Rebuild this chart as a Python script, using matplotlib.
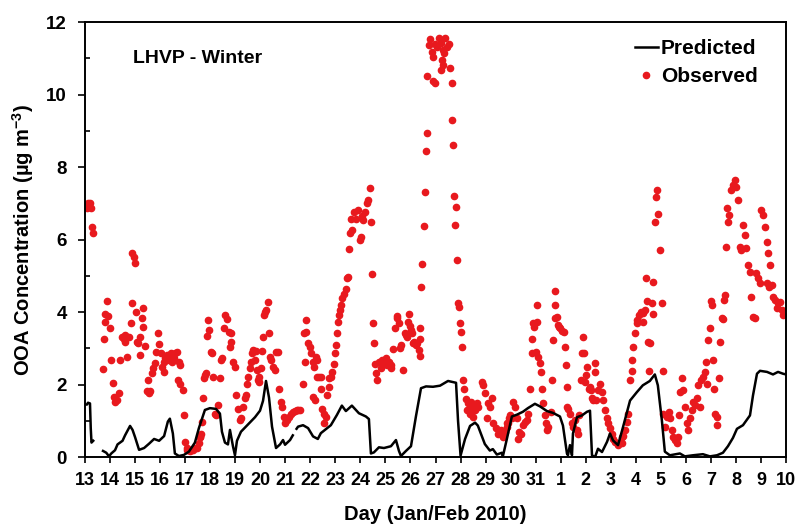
import numpy as np
import matplotlib
matplotlib.use("Agg")
import matplotlib.pyplot as plt

# day index: 0 = 13 Jan 2010, 28 = 10 Feb 2010
day_labels = [str(d) for d in range(13, 32)] + [str(d) for d in range(1, 11)]

pred_day = [0.0, 0.08, 0.12, 0.2, 0.23, 0.26, 0.33, np.nan,
            0.72, 0.85, 0.96, 1.05, 1.2, 1.3, 1.4, 1.5, 1.6, 1.8, 1.9, 2.0,
            2.16, 2.36, 2.56, 2.76, 2.96, 3.16, 3.31, 3.39, 3.51, 3.59, 3.75,
            3.95, 4.15, 4.39, 4.55, 4.79, 4.99, 5.23, 5.39, 5.47, 5.59, 5.71,
            5.79, 5.91, 5.99, 6.07, 6.23, 6.51, 6.79, 6.99, 7.11, 7.23, 7.35,
            7.47, 7.63, 7.79, 7.91, 7.99, 8.19, 8.3, np.nan,
            8.45, 8.51, 8.71, 8.91, 9.11, 9.3, 9.42, 9.82, 10.06, 10.26, 10.42,
            10.66, 10.94, 11.22, 11.34, 11.42, 11.54, 11.74, 11.94, 12.22,
            12.42, 12.54, 12.62, 12.82, 13.02, 13.22, 13.42, 13.62, 13.9,
            14.18, 14.5, 14.82, 14.9, 15.0, 15.18, 15.38, 15.58, 15.69, 15.97,
            16.17, 16.29, 16.45, 16.65, 16.69, 16.85, 17.05, 17.25, 17.49,
            17.69, 17.97, 18.17, 18.45, 18.69, 18.97, 19.09, 19.25, 19.29,
            19.37, 19.45, 19.49, 19.65, 19.85, 20.05, 20.17, 20.25, 20.37,
            20.49, 20.65, 20.85, 20.97, 21.09, 21.29, 21.49, 21.77, 22.04,
            22.28, 22.56, 22.76, 22.88, 23.04, 23.16, 23.36, 23.76, 23.96,
            24.28, 24.68, 24.96, 25.24, 25.48, 25.68, 25.88, 26.04, 26.28,
            26.56, 26.68, 26.84, 26.96, 27.24, 27.48, 27.68, 27.88, 28.0]
pred_val = [1.45, 1.45, 1.5, 1.48, 0.8, 0.4, 0.45, np.nan,
            0.17, 0.12, 0.02, 0.1, 0.19, 0.35, 0.4, 0.45, 0.6, 0.86, 0.75, 0.55,
            0.2, 0.25, 0.37, 0.5, 0.45, 0.58, 0.98, 1.06, 0.65, 0.1, 0.03,
            0.06, 0.15, 0.4, 0.8, 1.3, 1.35, 1.33, 1.2, 0.7, 0.4, 0.35,
            0.75, 0.3, 0.05, 0.45, 0.7, 0.9, 1.1, 1.28, 1.55, 2.1, 1.64,
            0.84, 0.25, 0.35, 0.47, 0.34, 0.47, 0.6, np.nan,
            0.78, 0.84, 0.88, 0.8, 0.57, 0.5, 0.66, 0.88, 1.16, 1.42, 1.27,
            1.42, 1.21, 1.12, 1.05, 0.1, 0.13, 0.27, 0.25, 0.3,
            0.47, 0.17, 0.03, 0.17, 0.3, 1.13, 1.9, 1.95, 1.94,
            1.97, 2.1, 2.05, 1.0, 0.04, 0.5, 0.86, 0.95, 0.87, 0.36,
            0.18, 0.22, 0.07, 0.12, 0.02, 0.5, 1.12, 1.17, 1.25,
            1.35, 1.47, 1.4, 1.27, 1.22, 1.12, 0.87, 0.1, 0.05,
            0.33, 0.05, 0.65, 1.1, 1.15, 1.25, 1.28, 0.05, 0.0,
            0.23, 0.14, 0.42, 0.65, 0.46, 0.33, 0.83, 1.56, 1.79,
            1.98, 2.1, 2.28, 1.98, 1.02, 0.15, 0.05, 0.1, 0.02,
            0.05, 0.08, 0.02, 0.05, 0.12, 0.3, 0.53, 0.78, 0.88,
            1.15, 1.7, 2.3, 2.38, 2.35, 2.28, 2.35, 2.3, 2.28]

obs_day = [0.01, 0.08, 0.12, 0.21, 0.25, 0.28, 0.32, 0.72, 0.75, 0.81, 0.81,
           0.88, 0.92, 1.01, 1.05, 1.10, 1.14, 1.21, 1.28, 1.34, 1.41, 1.48,
           1.54, 1.58, 1.61, 1.68, 1.74, 1.85, 1.88, 1.88, 1.94, 1.98, 2.05,
           2.08, 2.12, 2.21, 2.21, 2.28, 2.30, 2.32, 2.41, 2.48, 2.52, 2.54,
           2.61, 2.68, 2.70, 2.78, 2.84, 2.92, 2.97, 3.05, 3.07, 3.14, 3.14,
           3.21, 3.27, 3.34, 3.41, 3.45, 3.47, 3.54, 3.61, 3.67, 3.71, 3.77,
           3.81, 3.81, 3.90, 3.94, 3.99, 4.06, 4.07, 4.19, 4.21, 4.33, 4.41,
           4.46, 4.54, 4.58, 4.61, 4.65, 4.67, 4.71, 4.75, 4.81, 4.85, 4.89,
           4.91, 4.94, 5.02, 5.07, 5.11, 5.18, 5.24, 5.31, 5.38, 5.42, 5.47,
           5.55, 5.60, 5.68, 5.74, 5.78, 5.82, 5.84, 5.91, 5.98, 6.04, 6.11,
           6.18, 6.24, 6.31, 6.38, 6.42, 6.48, 6.51, 6.58, 6.62, 6.67, 6.71,
           6.78, 6.84, 6.88, 6.91, 6.94, 6.97, 7.02, 7.07, 7.11, 7.15, 7.18,
           7.24, 7.31, 7.33, 7.37, 7.44, 7.51, 7.57, 7.64, 7.71, 7.75, 7.82,
           7.87, 7.95, 8.0, 8.08, 8.14, 8.21, 8.31, 8.38, 8.45, 8.51, 8.57,
           8.71, 8.74, 8.77, 8.84, 8.84, 8.91, 8.97, 9.04, 9.11, 9.11, 9.15,
           9.17, 9.21, 9.25, 9.28, 9.35, 9.41, 9.44, 9.48, 9.55, 9.55, 9.61,
           9.68, 9.74, 9.74, 9.84, 9.88, 9.94, 9.97, 10.01, 10.05, 10.10,
           10.14, 10.18, 10.24, 10.28, 10.34, 10.41, 10.45, 10.50, 10.54,
           10.58, 10.64, 10.68, 10.74, 10.81, 10.90, 10.98, 11.01, 11.07,
           11.11, 11.17, 11.25, 11.30, 11.38, 11.41, 11.47, 11.51, 11.54,
           11.58, 11.62, 11.67, 11.74, 11.81, 11.87, 11.94, 12.01, 12.07,
           12.14, 12.21, 12.24, 12.31, 12.37, 12.45, 12.47, 12.53, 12.58,
           12.63, 12.71, 12.77, 12.81, 12.85, 12.90, 12.94, 12.98, 13.03,
           13.07, 13.11, 13.14, 13.21, 13.27, 13.34, 13.38, 13.38, 13.40,
           13.43, 13.47, 13.54, 13.58, 13.62, 13.65, 13.67, 13.75, 13.78,
           13.84, 13.89, 13.89, 13.98, 13.98, 14.04, 14.15, 14.21, 14.21,
           14.25, 14.29, 14.29, 14.34, 14.38, 14.44, 14.55, 14.58, 14.65,
           14.65, 14.71, 14.73, 14.78, 14.81, 14.87, 14.91, 14.95, 14.98,
           15.0, 15.04, 15.11, 15.15, 15.22, 15.27, 15.31, 15.38, 15.40,
           15.44, 15.51, 15.58, 15.64, 15.71, 15.84, 15.91, 15.98, 16.04,
           16.11, 16.18, 16.24, 16.31, 16.41, 16.51, 16.60, 16.68, 16.77,
           16.84, 16.85, 16.91, 16.93, 16.97, 17.04, 17.10, 17.17, 17.24,
           17.31, 17.33, 17.41, 17.50, 17.57, 17.64, 17.70, 17.77, 17.84,
           17.87, 17.90, 17.94, 18.0, 18.04, 18.04, 18.10, 18.17, 18.21,
           18.27, 18.30, 18.37, 18.40, 18.44, 18.50, 18.61, 18.64, 18.70,
           18.77, 18.77, 18.79, 18.84, 18.88, 18.93, 18.97, 19.06, 19.14,
           19.17, 19.21, 19.24, 19.27, 19.30, 19.37, 19.44, 19.50, 19.57,
           19.64, 19.68, 19.73, 19.81, 19.86, 19.90, 19.94, 19.97, 20.03,
           20.07, 20.13, 20.17, 20.20, 20.26, 20.30, 20.37, 20.37, 20.43,
           20.50, 20.57, 20.63, 20.69, 20.76, 20.83, 20.90, 20.97, 21.03,
           21.10, 21.17, 21.30, 21.37, 21.43, 21.43, 21.50, 21.57, 21.63,
           21.70, 21.76, 21.83, 21.83, 21.90, 21.96, 22.03, 22.06, 22.14,
           22.19, 22.27, 22.30, 22.36, 22.40, 22.46, 22.50, 22.54, 22.56,
           22.63, 22.67, 22.70, 22.76, 22.80, 22.86, 22.90, 22.96, 23.03,
           23.07, 23.10, 23.16, 23.23, 23.33, 23.36, 23.43, 23.50, 23.56,
           23.63, 23.70, 23.73, 23.76, 23.83, 23.90, 23.96, 24.03, 24.10,
           24.16, 24.23, 24.30, 24.36, 24.43, 24.49, 24.56, 24.62, 24.69,
           24.76, 24.80, 24.86, 24.90, 24.96, 24.99, 25.03, 25.07, 25.12,
           25.16, 25.23, 25.26, 25.33, 25.36, 25.43, 25.47, 25.52, 25.56,
           25.62, 25.65, 25.69, 25.73, 25.82, 25.89, 25.96, 26.02, 26.09,
           26.16, 26.22, 26.29, 26.36, 26.42, 26.49, 26.56, 26.62, 26.69,
           26.76, 26.82, 26.89, 26.96, 27.02, 27.09, 27.16, 27.22, 27.22,
           27.29, 27.33, 27.36, 27.42, 27.49, 27.55, 27.62, 27.69, 27.76,
           27.82, 27.89]
obs_val = [6.95, 6.86, 7.0, 7.0, 6.86, 6.35, 6.19, 2.42, 3.25, 3.96, 3.73,
           4.31, 3.89, 3.55, 2.68, 2.05, 1.66, 1.53, 1.57, 1.77, 2.68, 3.32,
           3.25, 3.37, 3.18, 2.77, 3.32, 3.71, 4.26, 5.64, 5.51, 5.36, 4.01,
           3.18, 3.15, 3.32, 2.81, 3.85, 4.10, 3.6, 3.07, 1.83, 2.12, 1.77,
           1.82, 2.33, 2.45, 2.6, 2.91, 3.43, 3.12, 2.86, 2.49, 2.63, 2.35,
           2.72, 2.81, 2.68, 2.77, 2.86, 2.63, 2.72, 2.86, 2.91, 2.14, 2.63,
           2.54, 2.01, 1.85, 1.16, 0.42, 0.19, 0.24, 0.18, 0.19, 0.2, 0.24,
           0.25, 0.38, 0.56, 0.56, 0.65, 0.97, 1.62, 2.17, 2.26, 2.33, 3.34,
           3.78, 3.50, 2.91, 2.86, 2.22, 1.2, 1.16, 1.43, 2.17, 2.68, 2.72,
           3.55, 3.92, 3.8, 3.46, 3.04, 3.43, 3.18, 2.63, 2.49, 1.71, 1.34,
           1.02, 1.07, 1.39, 1.62, 1.71, 2.01, 2.22, 2.47, 2.63, 2.86, 2.95,
           2.68, 2.93, 2.4, 2.12, 2.08, 2.22, 2.45, 2.93, 3.32, 3.92, 4.01,
           4.06, 4.29, 3.41, 2.77, 2.68, 2.49, 2.4, 2.91, 2.91, 1.87, 1.53,
           1.39, 1.11, 0.93, 1.02, 1.11, 1.2, 1.25, 1.28, 1.3, 1.3, 1.3,
           2.01, 3.41, 2.63, 3.78, 3.46, 3.14, 3.04, 2.86, 2.63, 1.66, 2.49,
           1.57, 2.77, 2.22, 2.68, 2.22, 2.22, 1.87, 1.34, 1.2, 0.93, 1.11,
           1.71, 1.94, 2.17, 2.22, 2.35, 2.58, 2.86, 3.09, 3.43, 3.73,
           3.92, 4.06, 4.19, 4.38, 4.51, 4.65, 4.93, 4.97, 5.73,
           6.19, 6.58, 6.26, 6.77, 6.58, 6.81, 5.99, 6.06, 6.65,
           6.54, 6.77, 7.0, 7.09, 7.41, 6.49, 5.04, 3.71, 3.14,
           2.58, 2.33, 2.12, 2.63, 2.45, 2.68, 2.58, 2.72, 2.54,
           2.63, 2.45, 2.54, 2.97, 3.55, 3.83, 3.89, 3.71, 3.0,
           3.09, 2.4, 3.43, 3.37, 3.32, 3.73, 3.96, 3.61, 3.5,
           3.41, 3.14, 3.18, 3.09, 3.15, 2.95, 2.79, 3.25, 3.55,
           4.7, 5.32, 6.37, 7.32, 8.45, 8.95, 10.51, 11.37, 11.52,
           11.18, 11.04, 10.38, 11.39, 10.33, 11.32, 11.55, 11.41, 10.68,
           10.95, 11.23, 10.81, 11.14, 11.55, 11.32, 11.39, 10.72, 10.33,
           9.31, 8.61, 7.2, 6.4, 6.91, 5.43, 4.24, 4.13, 3.69,
           3.46, 3.04, 2.14, 1.89, 1.59, 1.3, 1.48, 1.2, 1.53,
           1.39, 1.11, 1.3, 1.48, 1.39, 2.08, 1.99, 1.76, 1.07,
           1.48, 1.39, 1.62, 0.93, 0.79, 0.65, 0.74, 0.56, 0.7,
           0.84, 0.93, 0.93, 1.07, 1.16, 1.07, 1.53, 1.39, 1.07,
           0.51, 0.7, 0.65, 0.88, 0.97, 1.02, 1.2, 1.89, 2.86,
           3.25, 3.69, 3.6, 2.91, 3.73, 4.19, 2.77, 2.6, 2.35,
           1.89, 1.48, 1.16, 0.93, 0.74, 0.84, 1.25, 2.12, 3.23,
           3.85, 4.59, 4.19, 3.87, 3.64, 3.6, 3.55, 3.49, 3.46,
           3.04, 2.54, 1.94, 1.39, 1.34, 1.2, 0.93, 0.84, 1.02,
           0.74, 0.65, 1.16, 2.12, 2.86, 3.32, 2.86, 2.08, 2.26,
           2.49, 1.87, 1.94, 1.85, 1.62, 1.57, 2.35, 2.6, 1.57,
           1.85, 2.03, 1.8, 1.57, 1.3, 1.07, 0.93, 0.79, 0.65,
           0.51, 0.42, 0.33, 0.38, 0.56, 0.38, 0.58, 0.74, 0.97,
           1.2, 2.14, 2.38, 2.68, 3.04, 3.43, 3.69, 3.78, 3.92,
           4.01, 3.98, 3.73, 4.07, 4.93, 4.31, 3.18, 2.38, 3.14,
           4.24, 3.96, 4.84, 6.49, 7.18, 7.37, 6.7, 5.71, 4.24,
           2.38, 1.2, 0.84, 1.11, 1.25, 1.07, 0.74, 0.56, 0.47,
           0.38, 0.56, 1.16, 1.8, 2.17, 1.85, 1.39, 0.93, 0.74,
           1.07, 1.3, 1.53, 1.43, 1.62, 1.99, 1.39, 2.12, 2.22,
           2.35, 2.63, 2.03, 3.23, 3.55, 4.31, 4.19, 2.69, 1.87,
           1.2, 1.11, 0.88, 2.17, 3.18, 3.83, 3.8, 4.33, 4.47,
           5.8, 6.86, 6.49, 6.68, 7.37, 7.5, 7.64, 7.46, 7.09,
           5.8, 5.71, 6.4, 6.12, 5.76, 5.3, 5.11, 4.42, 3.87,
           3.83, 5.07, 4.93, 4.79, 6.81, 6.68, 6.35, 5.94, 4.79,
           5.62, 4.7, 5.3, 4.74, 4.42, 4.33, 4.1, 4.24, 4.28,
           4.06, 3.92]

plt.rcParams['font.family'] = ['Liberation Sans', 'DejaVu Sans']
plt.rcParams['font.weight'] = 'bold'
plt.rcParams['mathtext.fontset'] = 'custom'
plt.rcParams['mathtext.rm'] = 'Liberation Sans:bold'
plt.rcParams['mathtext.bf'] = 'Liberation Sans:bold'

fig = plt.figure(figsize=(7.98, 5.26), dpi=100)
ax = fig.add_axes([0.1065, 0.131, 0.8785, 0.827])

ax.plot(obs_day, obs_val, linestyle='none', marker='o', ms=4.5,
        color='#e8191e', label='Observed', zorder=2)
ax.plot(pred_day, pred_val, color='black', lw=1.8, label='Predicted', zorder=3)

ax.set_xlim(0, 28)
ax.set_ylim(0, 12)
ax.set_xticks(range(29))
ax.set_xticklabels(day_labels)
ax.set_yticks(range(0, 13, 2))
ax.set_yticks(range(1, 12, 2), minor=True)
ax.tick_params(axis='x', which='major', direction='out', length=4, width=1.2,
               labelsize=13, pad=7)
ax.tick_params(axis='y', which='major', direction='out', length=5, width=1.2,
               labelsize=13.5, pad=8)
ax.tick_params(axis='y', which='minor', direction='in', length=3.5, width=1.2)
for s in ax.spines.values():
    s.set_linewidth(1.4)

ax.set_xlabel('Day (Jan/Feb 2010)', fontsize=14.5, fontweight='bold', labelpad=11)
ax.set_ylabel('OOA Concentration (µg m$^{-3}$)', fontsize=14.5,
              fontweight='bold', labelpad=7)

ax.text(0.068, 0.917, 'LHVP - Winter', transform=ax.transAxes, fontsize=14,
        fontweight='bold', va='center', ha='left')

h, l = ax.get_legend_handles_labels()
ax.legend(h[::-1], l[::-1], loc='upper right', bbox_to_anchor=(0.974, 0.985),
          frameon=False, fontsize=15, handlelength=1.1, handletextpad=0.15,
          labelspacing=0.45, borderpad=0, markerscale=1.0)

fig.savefig('out.png', dpi=100)
